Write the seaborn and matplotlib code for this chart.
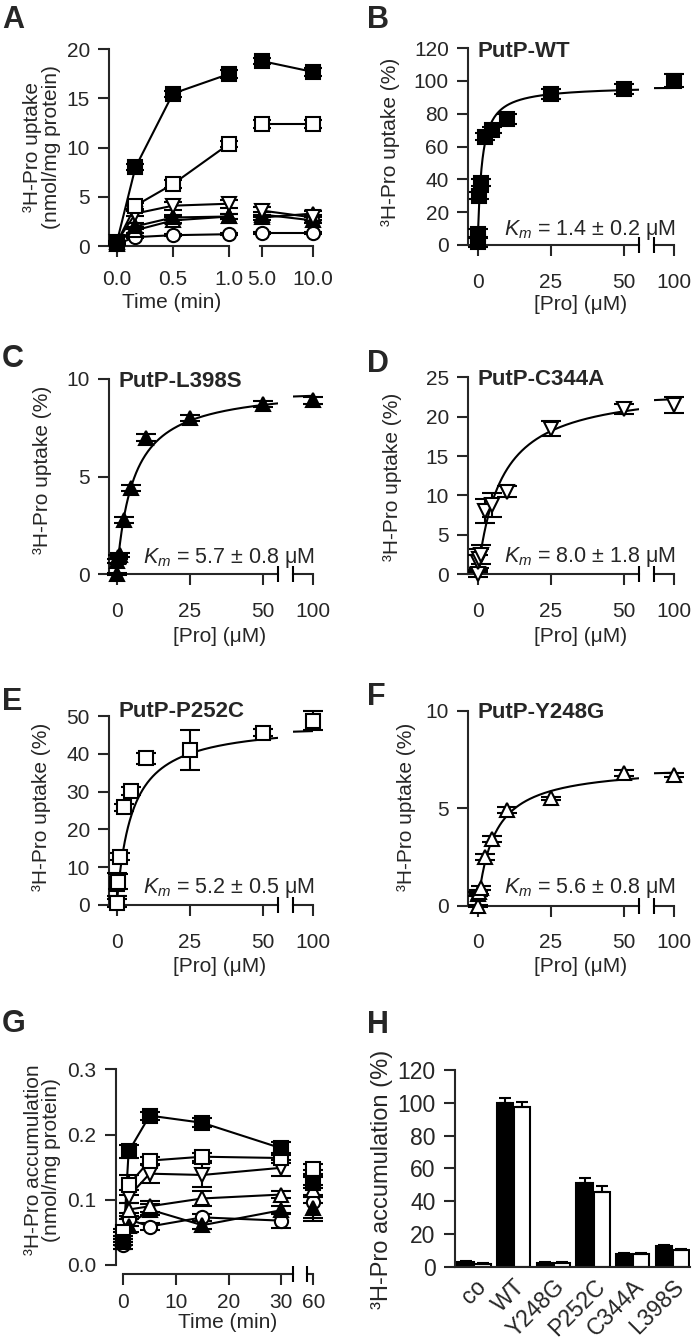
import numpy as np
import pandas as pd
import matplotlib
matplotlib.use("Agg")
import matplotlib.pyplot as plt
import seaborn as sns

# ---------------- data ----------------
# A: 3H-Pro uptake time course (nmol/mg protein)
time_a = [0, 0.167, 0.5, 1.0, 5.0, 10.0]
a_wt = [0.3, 8.0, 15.5, 17.5, 18.8, 17.7]
a_wt_err = [0.1, 0.3, 0.3, 0.4, 0.3, 0.4]
a_p252c = [0.3, 4.1, 6.3, 10.4, 12.4, 12.4]
a_p252c_err = [0.1, 0.3, 0.4, 0.3, 0.4, 0.4]
a_c344a = [0.4, 3.3, 4.1, 4.3, 3.6, 2.9]
a_c344a_err = [0.1, 0.3, 0.4, 0.4, 0.4, 0.3]
a_l398s = [0.2, 2.0, 2.9, 3.0, 3.2, 2.6]
a_l398s_err = [0.1, 0.3, 0.3, 0.3, 0.3, 0.3]
a_y248g = [0.4, 1.6, 2.6, 3.0, 2.9, 3.3]
a_y248g_err = [0.1, 0.3, 0.3, 0.3, 0.3, 0.3]
a_co = [0.2, 0.9, 1.1, 1.2, 1.3, 1.3]
a_co_err = [0.1, 0.1, 0.1, 0.1, 0.1, 0.1]

# B-F: concentration dependence (% of WT)
conc = [0, 0.25, 0.5, 1, 2.5, 5, 10, 25, 50, 100]
wt = [2, 7, 30, 38, 66, 70, 77, 92, 95, 100]
wt_err = [3, 3, 2, 2, 2, 2, 3, 3, 3, 4]
l398s = [0, 0.7, 0.9, 1.0, 2.8, 4.4, 7.0, 8.0, 8.7, 8.9]
l398s_err = [0.05, 0.1, 0.1, 0.1, 0.15, 0.15, 0.2, 0.15, 0.15, 0.2]
c344a = [0, 1.5, 2.0, 2.5, 8.0, 8.8, 10.5, 18.5, 21.0, 21.5]
c344a_err = [0.3, 1.0, 1.2, 1.2, 1.5, 1.5, 0.7, 1.0, 0.6, 1.0]
p252c = [0.5, 5.5, 6.2, 12.8, 25.8, 30.2, 38.8, 41.0, 45.6, 48.7]
p252c_err = [1, 3, 2, 1, 1, 1, 1.5, 5.3, 1, 2.5]
y248g = [0, 0.6, 0.7, 0.9, 2.5, 3.4, 4.9, 5.5, 6.8, 6.7]
y248g_err = [0.05, 0.1, 0.1, 0.1, 0.15, 0.15, 0.15, 0.1, 0.15, 0.1]
# fitted Michaelis-Menten parameters (Km from the panels, Vmax)
km = {"WT": 1.4, "L398S": 5.7, "C344A": 8.0, "P252C": 5.2, "Y248G": 5.6}
km_sd = {"WT": "0.2", "L398S": "0.8", "C344A": "1.8", "P252C": "0.5", "Y248G": "0.8"}
vmax = {"WT": 97, "L398S": 9.66, "C344A": 24.0, "P252C": 48.4, "Y248G": 7.2}

# G: accumulation time course (nmol/mg protein)
time_g = [0, 1, 5, 15, 30, 60]
g_wt = [0.035, 0.174, 0.229, 0.218, 0.179, 0.125]
g_wt_err = [0.005, 0.01, 0.006, 0.007, 0.01, 0.02]
g_p252c = [0.05, 0.123, 0.16, 0.166, 0.164, 0.147]
g_p252c_err = [0.005, 0.015, 0.006, 0.006, 0.008, 0.008]
g_c344a = [0.045, 0.105, 0.14, 0.138, 0.149, 0.128]
g_c344a_err = [0.005, 0.01, 0.015, 0.018, 0.012, 0.01]
g_y248g = [0.04, 0.085, 0.09, 0.102, 0.108, 0.115]
g_y248g_err = [0.005, 0.01, 0.008, 0.012, 0.006, 0.02]
g_l398s = [0.035, 0.06, 0.085, 0.061, 0.084, 0.088]
g_l398s_err = [0.005, 0.01, 0.008, 0.006, 0.006, 0.02]
g_co = [0.03, 0.07, 0.059, 0.073, 0.068, 0.097]
g_co_err = [0.005, 0.01, 0.005, 0.005, 0.012, 0.025]

# H: accumulation (%)
strains = ["co", "WT", "Y248G", "P252C", "C344A", "L398S"]
h_black = [3.0, 100, 2.5, 51, 8.0, 12.5]
h_black_err = [0.3, 3, 0.3, 3, 0.3, 0.5]
h_white = [1.8, 97.5, 2.3, 45.5, 8.0, 10.2]
h_white_err = [0.3, 3, 0.3, 3.5, 0.3, 0.5]

# ---------------- style ----------------
sns.set_style("ticks")
plt.rcParams["font.family"] = ["Liberation Sans", "DejaVu Sans"]
plt.rcParams["mathtext.fontset"] = "custom"
plt.rcParams["mathtext.rm"] = "Liberation Sans"
plt.rcParams["mathtext.it"] = "Liberation Sans:italic"
plt.rcParams["axes.linewidth"] = 1.5

W, H = 693, 1340
fig = plt.figure(figsize=(W / 100, H / 100), dpi=100)
FS = 15
LW = 1.5
PXU = 2.93  # px per uM in the kinetic panels

STY = {"WT": ("s", "black"), "P252C": ("s", "white"), "C344A": ("v", "white"),
       "L398S": ("^", "black"), "Y248G": ("^", "white"), "co": ("o", "white")}


def px_ax(l, t, r, b):
    return fig.add_axes([l / W, 1 - b / H, (r - l) / W, (b - t) / H])


def ftxt(x, y, s, **kw):
    kw.setdefault("fontsize", FS)
    fig.text(x / W, 1 - y / H, s, **kw)


def style(ax, left=True, xpad=8, lsize=FS):
    ax.spines["top"].set_visible(False)
    ax.spines["right"].set_visible(False)
    ax.tick_params(axis="both", which="major", direction="out", length=8, width=LW,
                   labelsize=lsize)
    ax.tick_params(axis="y", which="major", pad=6)
    ax.tick_params(axis="x", which="major", pad=xpad)
    if not left:
        ax.spines["left"].set_visible(False)
        ax.tick_params(axis="y", left=False, labelleft=False)
    ax.set_facecolor("none")


def points(ax, x, y, e, key, ms=9.5, cap=6.5):
    m, fc = STY[key]
    eb = ax.errorbar(x, y, yerr=e, fmt="none", ecolor="black", elinewidth=LW,
                     capsize=cap, capthick=LW, zorder=3)
    for a in eb.get_children():
        a.set_clip_on(False)
    ax.plot(x, y, ls="none", marker=m, ms=ms + (1 if m in "^v" else 0), mfc=fc,
            mec="black", mew=LW, clip_on=False, zorder=4)


def brk_mark(ax, x, y):
    ax.plot([x], [y], marker="|", ms=11, mew=LW, color="black", clip_on=False, zorder=5)


# ---------------- A ----------------
axA = px_ax(109.3, 49.3, 229.3, 246)
axA2 = px_ax(260, 49.3, 313, 246)
series_a = [("co", a_co, a_co_err), ("Y248G", a_y248g, a_y248g_err),
            ("L398S", a_l398s, a_l398s_err), ("C344A", a_c344a, a_c344a_err),
            ("P252C", a_p252c, a_p252c_err), ("WT", a_wt, a_wt_err)]
for key, v, e in series_a:
    for ax, sl in ((axA, slice(0, 4)), (axA2, slice(4, 6))):
        sns.lineplot(x=time_a[sl], y=v[sl], ax=ax, color="black", lw=LW,
                     estimator=None, sort=False, zorder=2)
        points(ax, time_a[sl], v[sl], e[sl], key)
axA.set_xlim(-0.065, 1.0)
axA2.set_xlim(4.8, 10.0)
for ax in (axA, axA2):
    ax.set_ylim(0, 20)
axA.set_yticks([0, 5, 10, 15, 20])
axA.set_xticks([0, 0.5, 1.0], ["0.0", "0.5", "1.0"])
axA2.set_xticks([5, 10], ["5.0", "10.0"])
style(axA, xpad=9)
style(axA2, left=False, xpad=9)
ftxt(33, 147, "³H-Pro uptake", rotation=90, ha="center", va="center")
ftxt(52, 147, "(nmol/mg protein)", rotation=90, ha="center", va="center")
ftxt(172, 302, "Time (min)", ha="center", va="center")


# ---------------- B-F ----------------
def kinetic(col, top, bot, ymax, ystep, vals, errs, key, title, title_y, km_y,
            ylab_x, ylab_y, xlab_y):
    spine, zero = (109.3, 116.7) if col == 0 else (468.3, 477.7)
    main_r = zero + 55 * PXU
    ax = px_ax(spine, top, main_r, bot)
    bx = px_ax(main_r + 15.3, top, main_r + 35.0, bot)
    xs = np.linspace(0, 55, 300)
    sns.lineplot(x=xs, y=vmax[key] * xs / (km[key] + xs), ax=ax, color="black",
                 lw=LW, zorder=2)
    x0 = 100 - 19.7 / PXU
    xs2 = np.linspace(x0, 100, 20)
    sns.lineplot(x=xs2, y=vmax[key] * xs2 / (km[key] + xs2), ax=bx, color="black",
                 lw=LW, zorder=2)
    points(ax, conc[:-1], vals[:-1], errs[:-1], key, cap=7.5)
    points(bx, conc[-1:], vals[-1:], errs[-1:], key, cap=7.5)
    ax.set_xlim((spine - zero) / PXU, 55)
    bx.set_xlim(x0, 100)
    for a in (ax, bx):
        a.set_ylim(0, ymax)
    ax.set_yticks(np.arange(0, ymax + 0.1, ystep))
    ax.set_xticks([0, 25, 50])
    bx.set_xticks([100])
    style(ax, xpad=12)
    style(bx, left=False, xpad=12)
    brk_mark(ax, 55, 0)
    brk_mark(bx, x0, 0)
    ftxt(spine + 9, title_y, title, fontsize=16, fontweight="bold", ha="left",
         va="baseline")
    ftxt(main_r + 37.5, km_y, r"$K_m$ = %.1f ± %s μM" % (km[key], km_sd[key]),
         fontsize=15.5, ha="right", va="baseline")
    ftxt(ylab_x, ylab_y, "³H-Pro uptake (%)", rotation=90, ha="center", va="center")
    ftxt(zero + 103, xlab_y, "[Pro] (μM)", ha="center", va="center")


kinetic(1, 48, 245, 120, 20, wt, wt_err, "WT", "PutP-WT", 57, 235, 390, 142, 304)
kinetic(0, 379, 574.3, 10, 5, l398s, l398s_err, "L398S", "PutP-L398S", 386.7, 563,
        42.5, 470, 636)
kinetic(1, 377.3, 574.3, 25, 5, c344a, c344a_err, "C344A", "PutP-C344A", 385, 561.7,
        393, 477, 636)
kinetic(0, 716, 905, 50, 10, p252c, p252c_err, "P252C", "PutP-P252C", 716.7, 893,
        42, 807, 966)
kinetic(1, 710.7, 905.7, 10, 5, y248g, y248g_err, "Y248G", "PutP-Y248G", 718.3, 893,
        406, 807, 966)

# ---------------- G ----------------
axG = px_ax(116, 1069.3, 293.3, 1274)
axG2 = px_ax(306.7, 1069.3, 313.3, 1274)
series_g = [("co", g_co, g_co_err), ("L398S", g_l398s, g_l398s_err),
            ("Y248G", g_y248g, g_y248g_err), ("C344A", g_c344a, g_c344a_err),
            ("P252C", g_p252c, g_p252c_err), ("WT", g_wt, g_wt_err)]
for key, v, e in series_g:
    sns.lineplot(x=time_g[:5], y=v[:5], ax=axG, color="black", lw=LW,
                 estimator=None, sort=False, zorder=2)
    points(axG, time_g[:5], v[:5], e[:5], key, cap=7)
    points(axG2, time_g[5:], v[5:], e[5:], key, cap=7)
ybot = -0.0138
axG.set_xlim(-1.4, 32.3)
axG2.set_xlim(58.7, 60)
for ax in (axG, axG2):
    ax.set_ylim(ybot, 0.3)
axG.set_yticks([0, 0.1, 0.2, 0.3], ["0.0", "0.1", "0.2", "0.3"])
axG.set_xticks([0, 10, 20, 30])
axG2.set_xticks([60])
style(axG, xpad=5.5)
style(axG2, left=False, xpad=5.5)
axG.spines["left"].set_bounds(0, 0.3)
axG.spines["bottom"].set_bounds(0, 32.3)
brk_mark(axG, 32.3, ybot)
brk_mark(axG2, 58.7, ybot)
ftxt(34, 1160, "³H-Pro accumulation", rotation=90, ha="center", va="center")
ftxt(52, 1160, "(nmol/mg protein)", rotation=90, ha="center", va="center")
ftxt(228, 1323, "Time (min)", ha="center", va="center")

# ---------------- H ----------------
axH = px_ax(455, 1070, 690, 1266.7)
df_h = pd.DataFrame({"strain": strains * 2, "value": h_black + h_white,
                     "cond": ["a"] * len(strains) + ["b"] * len(strains)})
sns.barplot(data=df_h, x="strain", y="value", hue="cond", palette=["black", "white"],
            saturation=1, edgecolor="black", linewidth=LW, width=0.86, gap=0.05,
            errorbar=None, legend=False, ax=axH)
for cont, vals, errs in zip(axH.containers, [h_black, h_white], [h_black_err, h_white_err]):
    xs = [p.get_x() + p.get_width() / 2 for p in cont]
    axH.errorbar(xs, vals, yerr=[np.zeros(len(errs)), errs], fmt="none", ecolor="black",
                 elinewidth=LW, capsize=4.5, capthick=LW, zorder=3)
axH.set_xlim(-0.48, 5.44)
axH.set_ylim(0, 120)
axH.set_yticks(np.arange(0, 121, 20))
axH.set_xlabel("")
axH.set_ylabel("")
style(axH, lsize=16.5)
axH.tick_params(axis="x", length=0, pad=6)
for lbl in axH.get_xticklabels():
    lbl.set_rotation(45)
    lbl.set_ha("right")
    lbl.set_rotation_mode("anchor")
ftxt(382, 1179, "³H-Pro accumulation (%)", rotation=90, ha="center", va="center",
     fontsize=17)

# ---------------- panel letters ----------------
for letter, x, y in [("A", 2, 28), ("B", 367, 28), ("C", 2, 367), ("D", 367, 371.7),
                     ("E", 2, 710), ("F", 367, 705), ("G", 2, 1031.7), ("H", 367, 1033.3)]:
    ftxt(x, y, letter, fontsize=22, fontweight="bold", ha="left", va="baseline")

fig.savefig("out.png", dpi=100)
